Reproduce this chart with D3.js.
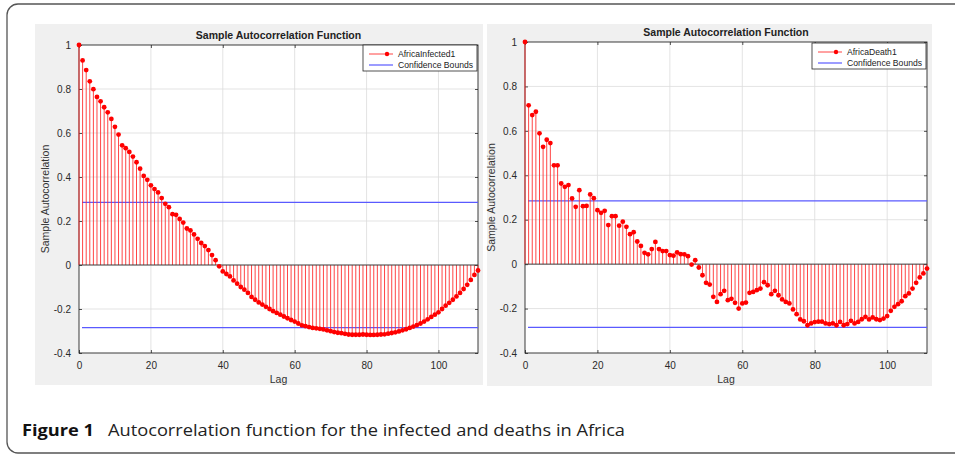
<!DOCTYPE html>
<html>
<head>
<meta charset="utf-8">
<script src="https://cdn.jsdelivr.net/npm/d3@7"></script>
<style>
  html, body { margin: 0; padding: 0; background: #fff; }
  svg { display: block; }
  svg text { font-family: "Liberation Sans", Arial, sans-serif; }
  svg text.caption { font-family: "Open Sans", "Noto Sans", sans-serif; }
</style>
</head>
<body>
<svg id="chart" width="955" height="454"></svg>
<script>
// ---------- DATA ----------
const lags = d3.range(0, 112);
const infectedACF = [
  1.000, 0.930, 0.886, 0.835, 0.799, 0.764, 0.744, 0.717, 0.694, 0.664,
  0.628, 0.593, 0.544, 0.531, 0.514, 0.493, 0.467, 0.438, 0.405, 0.387,
  0.362, 0.345, 0.330, 0.304, 0.278, 0.263, 0.231, 0.228, 0.209, 0.193,
  0.166, 0.157, 0.139, 0.119, 0.100, 0.086, 0.068, 0.045, 0.022, -0.006,
  -0.029, -0.041, -0.052, -0.070, -0.085, -0.100, -0.112, -0.127, -0.145, -0.158,
  -0.170, -0.180, -0.190, -0.200, -0.210, -0.218, -0.226, -0.234, -0.242, -0.250,
  -0.257, -0.266, -0.274, -0.278, -0.282, -0.286, -0.288, -0.290, -0.293, -0.297,
  -0.301, -0.305, -0.308, -0.310, -0.313, -0.316, -0.317, -0.317, -0.317, -0.316,
  -0.317, -0.318, -0.318, -0.317, -0.316, -0.315, -0.312, -0.309, -0.306, -0.302,
  -0.297, -0.292, -0.286, -0.280, -0.273, -0.266, -0.257, -0.247, -0.236, -0.226,
  -0.215, -0.200, -0.185, -0.172, -0.158, -0.143, -0.127, -0.109, -0.090, -0.068,
  -0.045, -0.025
];
const deathACF = [
  1.000, 0.715, 0.671, 0.686, 0.589, 0.528, 0.560, 0.545, 0.445, 0.445,
  0.363, 0.348, 0.356, 0.296, 0.258, 0.333, 0.261, 0.262, 0.314, 0.297,
  0.243, 0.231, 0.240, 0.176, 0.216, 0.216, 0.173, 0.191, 0.168, 0.135,
  0.144, 0.102, 0.082, 0.051, 0.044, 0.068, 0.100, 0.068, 0.059, 0.059,
  0.041, 0.038, 0.053, 0.045, 0.044, 0.036, -0.002, 0.018, -0.015, -0.050,
  -0.084, -0.092, -0.147, -0.170, -0.135, -0.120, -0.162, -0.156, -0.174, -0.200,
  -0.177, -0.173, -0.129, -0.125, -0.117, -0.110, -0.081, -0.095, -0.135, -0.120,
  -0.140, -0.159, -0.170, -0.177, -0.204, -0.225, -0.249, -0.257, -0.275, -0.267,
  -0.261, -0.259, -0.259, -0.267, -0.270, -0.267, -0.275, -0.260, -0.275, -0.270,
  -0.255, -0.267, -0.260, -0.248, -0.237, -0.249, -0.240, -0.248, -0.252, -0.245,
  -0.234, -0.210, -0.192, -0.180, -0.167, -0.144, -0.132, -0.110, -0.084, -0.060,
  -0.042, -0.020
];
const confBound = 0.285;
const xTicks = [0, 20, 40, 60, 80, 100];
const yTicks = [-0.4, -0.2, 0, 0.2, 0.4, 0.6, 0.8, 1];
const titleText = "Sample Autocorrelation Function";
const xLabel = "Lag";
const yLabel = "Sample Autocorrelation";
const seriesNames = ["AfricaInfected1", "AfricaDeath1"];
const boundsName = "Confidence Bounds";
const captionBold = "Figure 1";
const captionText = "Autocorrelation function for the infected and deaths in Africa";

// ---------- DRAW ----------
const svg = d3.select("#chart");

// outer frame
svg.append("rect")
  .attr("x", 7).attr("y", 4).attr("width", 1000).attr("height", 449)
  .attr("rx", 11).attr("ry", 11)
  .attr("fill", "none").attr("stroke", "#555").attr("stroke-width", 1.3);

function drawPanel(cfg) {
  const g = svg.append("g");
  g.append("rect").attr("x", cfg.bg[0]).attr("y", cfg.bg[1])
    .attr("width", cfg.bg[2] - cfg.bg[0]).attr("height", cfg.bg[3] - cfg.bg[1])
    .attr("fill", "#f0f0f0");

  const x = d3.scaleLinear().domain([0, 111]).range([cfg.ax[0], cfg.ax[2]]);
  const y = d3.scaleLinear().domain([-0.4, 1]).range([cfg.ax[3], cfg.ax[1]]);

  g.append("rect").attr("x", cfg.ax[0]).attr("y", cfg.ax[1])
    .attr("width", cfg.ax[2] - cfg.ax[0]).attr("height", cfg.ax[3] - cfg.ax[1])
    .attr("fill", "#fff");

  // grid
  g.append("g").selectAll("line").data(xTicks.filter(d => d > 0)).join("line")
    .attr("x1", d => x(d)).attr("x2", d => x(d))
    .attr("y1", cfg.ax[1]).attr("y2", cfg.ax[3])
    .attr("stroke", "#dcdcdc").attr("stroke-width", 0.8);
  g.append("g").selectAll("line").data(yTicks.filter(d => d > -0.4 && d < 1)).join("line")
    .attr("y1", d => y(d)).attr("y2", d => y(d))
    .attr("x1", cfg.ax[0]).attr("x2", cfg.ax[2])
    .attr("stroke", "#dcdcdc").attr("stroke-width", 0.8);

  // axes via d3 axis generators
  const tickFmt = d => String(+d.toFixed(1)); // plain hyphen-minus like MATLAB
  const xAxis = g.append("g").attr("transform", `translate(0,${cfg.ax[3]})`)
    .call(d3.axisBottom(x).tickValues(xTicks).tickSize(-3).tickPadding(9).tickFormat(tickFmt));
  const xAxisTop = g.append("g").attr("transform", `translate(0,${cfg.ax[1]})`)
    .call(d3.axisTop(x).tickValues(xTicks).tickSize(-3).tickFormat(""));
  const yAxis = g.append("g").attr("transform", `translate(${cfg.ax[0]},0)`)
    .call(d3.axisLeft(y).tickValues(yTicks).tickSize(-3).tickPadding(8).tickFormat(tickFmt));
  const yAxisR = g.append("g").attr("transform", `translate(${cfg.ax[2]},0)`)
    .call(d3.axisRight(y).tickValues(yTicks).tickSize(-3).tickFormat(""));
  [xAxis, xAxisTop, yAxis, yAxisR].forEach(a => {
    a.select(".domain").remove();
    a.selectAll(".tick line").attr("stroke", "#262626").attr("stroke-width", 0.8);
    a.selectAll(".tick text").attr("fill", "#2a2a2a").style("font-size", "10px")
      .style("font-family", '"Liberation Sans", Arial, sans-serif');
  });

  // box
  g.append("rect").attr("x", cfg.ax[0]).attr("y", cfg.ax[1])
    .attr("width", cfg.ax[2] - cfg.ax[0]).attr("height", cfg.ax[3] - cfg.ax[1])
    .attr("fill", "none").attr("stroke", "#262626").attr("stroke-width", 0.9);

  // confidence bounds
  [confBound, -confBound].forEach(b => {
    g.append("line").attr("x1", x(0) + 3).attr("x2", cfg.ax[2])
      .attr("y1", y(b)).attr("y2", y(b))
      .attr("stroke", "#5a5aff").attr("stroke-width", 1.3);
  });

  // stems
  const data = lags.map((l, i) => ({ lag: l, v: cfg.values[i] }));
  g.append("g").selectAll("line").data(data).join("line")
    .attr("x1", d => x(d.lag)).attr("x2", d => x(d.lag))
    .attr("y1", y(0)).attr("y2", d => y(d.v))
    .attr("stroke", "#ff3030").attr("stroke-width", 0.9);

  // zero baseline
  g.append("line").attr("x1", cfg.ax[0]).attr("x2", cfg.ax[2])
    .attr("y1", y(0)).attr("y2", y(0))
    .attr("stroke", "#333").attr("stroke-width", 0.9);

  // markers
  g.append("g").selectAll("circle").data(data).join("circle")
    .attr("cx", d => x(d.lag)).attr("cy", d => y(d.v)).attr("r", 2.4)
    .attr("fill", "#ff0000");

  // titles & labels
  const cx = (cfg.ax[0] + cfg.ax[2]) / 2;
  g.append("text").attr("x", cx).attr("y", cfg.ax[1] - 6)
    .attr("text-anchor", "middle").attr("font-weight", "bold")
    .attr("font-size", 10.5).attr("fill", "#222").text(titleText);
  g.append("text").attr("x", cx).attr("y", cfg.ax[3] + 30)
    .attr("text-anchor", "middle").attr("font-size", 10.5).attr("fill", "#333").text(xLabel);
  g.append("text")
    .attr("transform", `translate(${cfg.ylabX},${(cfg.ax[1] + cfg.ax[3]) / 2}) rotate(-90)`)
    .attr("text-anchor", "middle").attr("font-size", 10.5).attr("fill", "#333").text(yLabel);

  // legend
  const L = cfg.legend;
  const lg = g.append("g");
  lg.append("rect").attr("x", L[0]).attr("y", L[1]).attr("width", L[2] - L[0]).attr("height", L[3] - L[1])
    .attr("fill", "#fff").attr("stroke", "#262626").attr("stroke-width", 0.8);
  const r1 = L[1] + 9, r2 = L[1] + 20;
  lg.append("line").attr("x1", L[0] + 6).attr("x2", L[0] + 30).attr("y1", r1).attr("y2", r1)
    .attr("stroke", "#ff3030").attr("stroke-width", 0.9);
  lg.append("circle").attr("cx", L[0] + 24).attr("cy", r1).attr("r", 2.2).attr("fill", "#ff0000");
  lg.append("line").attr("x1", L[0] + 6).attr("x2", L[0] + 30).attr("y1", r2).attr("y2", r2)
    .attr("stroke", "#5a5aff").attr("stroke-width", 1.2);
  lg.append("text").attr("x", L[0] + 35).attr("y", r1 + 3).attr("font-size", 8.6).attr("fill", "#222").text(cfg.name);
  lg.append("text").attr("x", L[0] + 35).attr("y", r2 + 3).attr("font-size", 8.6).attr("fill", "#222").text(boundsName);
}

drawPanel({
  bg: [35, 24, 483, 385],
  ax: [79, 45, 478, 353],
  values: infectedACF,
  name: seriesNames[0],
  legend: [363, 45, 477, 71],
  ylabX: 49
});
drawPanel({
  bg: [487, 24, 932, 386],
  ax: [525, 42, 927, 353],
  values: deathACF,
  name: seriesNames[1],
  legend: [812, 43, 926, 69],
  ylabX: 495
});

// caption
svg.append("text").attr("class", "caption").attr("x", 22).attr("y", 436)
  .attr("font-weight", "bold").attr("font-size", 16).attr("fill", "#111")
  .attr("textLength", 72).attr("lengthAdjust", "spacingAndGlyphs")
  .text(captionBold);
svg.append("text").attr("class", "caption").attr("x", 108).attr("y", 436)
  .attr("font-size", 16).attr("fill", "#222")
  .attr("textLength", 517).attr("lengthAdjust", "spacingAndGlyphs")
  .text(captionText);
</script>
</body>
</html>
